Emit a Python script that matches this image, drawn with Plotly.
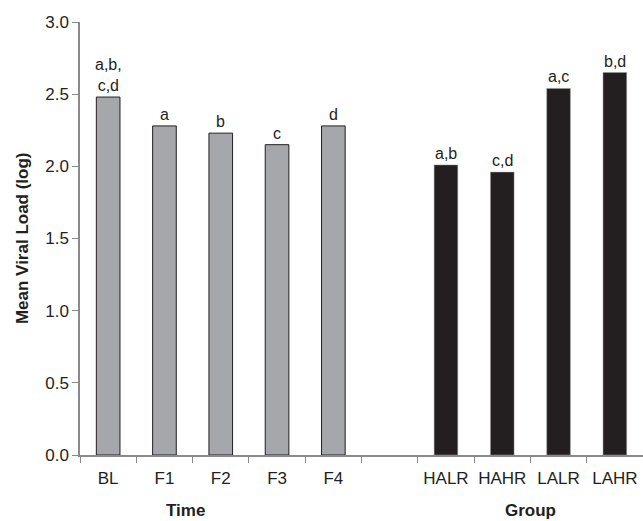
import plotly.graph_objects as go

# ---- data ----
time_categories = ["BL", "F1", "F2", "F3", "F4"]
time_values = [2.48, 2.28, 2.23, 2.15, 2.28]
time_letters = ["a,b,<br>c,d", "a", "b", "c", "d"]

group_categories = ["HALR", "HAHR", "LALR", "LAHR"]
group_values = [2.01, 1.96, 2.54, 2.65]
group_letters = ["a,b", "c,d", "a,c", "b,d"]

spacer = [" "]
all_categories = time_categories + spacer + group_categories

y_ticks = [0.0, 0.5, 1.0, 1.5, 2.0, 2.5, 3.0]

TEXT = "#231f20"
AXIS = "#8a8a8a"
FONT = "Liberation Sans, Arial, sans-serif"

fig = go.Figure()
fig.add_trace(go.Bar(
    x=time_categories, y=time_values, width=0.42,
    marker=dict(color="#a6a7aa", line=dict(color="#231f20", width=1)),
    showlegend=False, hoverinfo="x+y",
))
fig.add_trace(go.Bar(
    x=group_categories, y=group_values, width=0.42,
    marker=dict(color="#231f20", line=dict(color="#9a9a9a", width=0.5)),
    showlegend=False, hoverinfo="x+y",
))

annotations = []
for cats, vals, labs in [(time_categories, time_values, time_letters),
                         (group_categories, group_values, group_letters)]:
    for c, v, t in zip(cats, vals, labs):
        annotations.append(dict(
            x=c, y=v, xref="x", yref="y", text=t, showarrow=False,
            yanchor="bottom", yshift=1,
            font=dict(family=FONT, size=16, color=TEXT),
        ))

annotations += [
    dict(text="<b>Time</b>", xref="paper", yref="paper", x=0.188, y=-0.129,
         showarrow=False, xanchor="center", yanchor="middle",
         font=dict(family=FONT, size=17, color=TEXT)),
    dict(text="<b>Group</b>", xref="paper", yref="paper", x=0.80, y=-0.129,
         showarrow=False, xanchor="center", yanchor="middle",
         font=dict(family=FONT, size=17, color=TEXT)),
    dict(text="<b>Mean Viral Load (log)</b>", xref="paper", yref="paper",
         x=-0.102, y=0.5, textangle=-90, showarrow=False,
         xanchor="center", yanchor="middle",
         font=dict(family=FONT, size=17, color=TEXT)),
]

fig.update_layout(
    width=643, height=521,
    margin=dict(l=80, r=0, t=22, b=66),
    paper_bgcolor="white", plot_bgcolor="white",
    barmode="overlay",
    font=dict(family=FONT, size=17, color=TEXT),
    annotations=annotations,
    xaxis=dict(
        type="category", categoryorder="array", categoryarray=all_categories,
        range=[-0.5, len(all_categories) - 0.5],
        tickson="boundaries", ticks="outside", ticklen=6, tickcolor=AXIS,
        tickwidth=1.2,
        showline=True, linecolor=AXIS, linewidth=1.5,
        showgrid=False, zeroline=False, tickangle=0,
        tickfont=dict(family=FONT, size=17, color=TEXT),
        ticklabelstandoff=7,
    ),
    yaxis=dict(
        range=[0, 3], tickvals=y_ticks, tickformat=".1f",
        ticksuffix="\u00a0\u00a0",
        ticks="outside", ticklen=6, tickcolor=AXIS, tickwidth=1.2,
        showline=True, linecolor=AXIS, linewidth=1.5,
        showgrid=False, zeroline=False,
        tickfont=dict(family=FONT, size=17, color=TEXT),
    ),
)

fig.write_html(
    "out.html",
    config={"displayModeBar": False},
    post_script="document.body.style.margin='0';document.body.style.padding='0';",
)
